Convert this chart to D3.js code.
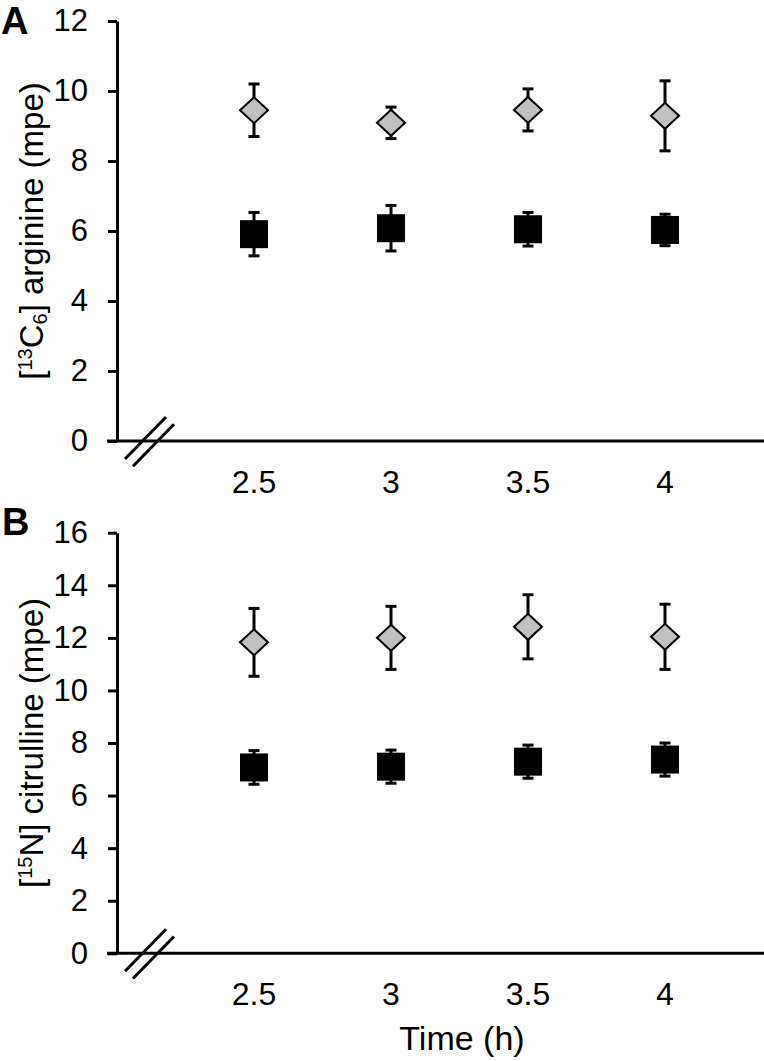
<!DOCTYPE html>
<html>
<head>
<meta charset="utf-8">
<script src="https://cdn.jsdelivr.net/npm/d3@7"></script>
<style>
  body { margin: 0; background: #fff; }
  text { font-family: "Liberation Sans", Arial, sans-serif; }
</style>
</head>
<body>
<div id="chart"></div>
<script>
// time points (h)
var times = [2.5, 3, 3.5, 4];

// panel A: [13C6] arginine (mpe)
var argDiamondMean = [9.45, 9.09, 9.46, 9.29];
var argDiamondSd = [0.75, 0.45, 0.6, 1.0];
var argSquareMean = [5.91, 6.08, 6.05, 6.03];
var argSquareSd = [0.62, 0.65, 0.48, 0.45];
var argTicks = [0, 2, 4, 6, 8, 10, 12];

// panel B: [15N] citrulline (mpe)
var citDiamondMean = [11.83, 12.0, 12.42, 12.04];
var citDiamondSd = [1.29, 1.2, 1.22, 1.24];
var citSquareMean = [7.07, 7.1, 7.29, 7.37];
var citSquareSd = [0.64, 0.63, 0.63, 0.63];
var citTicks = [0, 2, 4, 6, 8, 10, 12, 14, 16];

var width = 764, height = 1061;

var svg = d3.select("#chart").append("svg")
    .attr("width", width)
    .attr("height", height);

// shared x scale (axis starts at 2 h, drawn with a break mark)
var x = d3.scaleLinear().domain([2, 4.5]).range([117, 802]);

function panel(opts) {
    var y = d3.scaleLinear().domain([0, opts.ymax]).range([opts.y0, opts.y1]);
    var g = svg.append("g");

    // y axis
    var yAxis = g.append("g")
        .attr("transform", "translate(" + x(2) + ",0)")
        .call(d3.axisLeft(y).tickValues(opts.ticks).tickSize(9).tickSizeOuter(0).tickPadding(20));
    yAxis.select(".domain").attr("stroke", "#000").attr("stroke-width", 3);
    yAxis.selectAll(".tick line").attr("stroke", "#000").attr("stroke-width", 3);
    yAxis.selectAll(".tick text")
        .style("font-family", "'Liberation Sans', Arial, sans-serif")
        .style("font-size", "31px")
        .attr("fill", "#000");

    // x axis line, extends a bit to the left of the y axis
    g.append("line")
        .attr("x1", x(2) - 10).attr("x2", width)
        .attr("y1", y(0)).attr("y2", y(0))
        .attr("stroke", "#000").attr("stroke-width", 3);

    g.selectAll(".xlab")
        .data(times)
        .enter().append("text")
        .attr("x", function (d) { return x(d); })
        .attr("y", y(0) + 52)
        .attr("text-anchor", "middle")
        .style("font-size", "32px")
        .text(function (d) { return d; });

    // axis break "//"
    [0, 8].forEach(function (o) {
        g.append("line")
            .attr("x1", x(2) + 8 + o).attr("y1", y(0) + 18 + o * 0.9)
            .attr("x2", x(2) + 49 + o).attr("y2", y(0) - 24 + o * 0.9)
            .attr("stroke", "#000").attr("stroke-width", 3);
    });

    // error bars
    function errorBars(means, sds) {
        var eb = g.append("g");
        times.forEach(function (t, i) {
            var cx = x(t), top = y(means[i] + sds[i]), bot = y(means[i] - sds[i]);
            eb.append("line").attr("x1", cx).attr("x2", cx).attr("y1", top).attr("y2", bot)
                .attr("stroke", "#000").attr("stroke-width", 3);
            [top, bot].forEach(function (yy) {
                eb.append("line").attr("x1", cx - 5.5).attr("x2", cx + 5.5).attr("y1", yy).attr("y2", yy)
                    .attr("stroke", "#000").attr("stroke-width", 3);
            });
        });
    }
    errorBars(opts.dMean, opts.dSd);
    errorBars(opts.sMean, opts.sSd);

    // diamonds
    g.selectAll(".dia")
        .data(opts.dMean)
        .enter().append("path")
        .attr("d", "M0,-13L14,0L0,13L-14,0Z")
        .attr("transform", function (d, i) { return "translate(" + x(times[i]) + "," + y(d) + ")"; })
        .attr("fill", "#c0c0c0")
        .attr("stroke", "#000")
        .attr("stroke-width", 2);

    // squares
    g.selectAll(".sq")
        .data(opts.sMean)
        .enter().append("rect")
        .attr("x", function (d, i) { return x(times[i]) - 14; })
        .attr("y", function (d) { return y(d) - 14; })
        .attr("width", 28)
        .attr("height", 28)
        .attr("fill", "#000");

    // y title
    var cy = (opts.y0 + opts.y1) / 2;
    var t = g.append("text")
        .attr("transform", "translate(43," + cy + ") rotate(-90)")
        .attr("text-anchor", "middle")
        .style("font-size", "33px");
    opts.title(t);

    // panel letter
    g.append("text")
        .attr("x", opts.letterX).attr("y", opts.letterY)
        .style("font-size", "38px")
        .style("font-weight", "bold")
        .text(opts.letter);
}

panel({
    ymax: 12, y0: 441, y1: 21, ticks: argTicks,
    dMean: argDiamondMean, dSd: argDiamondSd,
    sMean: argSquareMean, sSd: argSquareSd,
    letter: "A", letterX: 1, letterY: 34,
    title: function (t) {
        t.append("tspan").text("[");
        t.append("tspan").attr("dy", -11).style("font-size", "20px").text("13");
        t.append("tspan").attr("dy", 11).text("C");
        t.append("tspan").attr("dy", 4).style("font-size", "20px").text("6");
        t.append("tspan").attr("dy", -4).text("] arginine (mpe)");
    }
});

panel({
    ymax: 16, y0: 953.3, y1: 532.7, ticks: citTicks,
    dMean: citDiamondMean, dSd: citDiamondSd,
    sMean: citSquareMean, sSd: citSquareSd,
    letter: "B", letterX: 2, letterY: 535,
    title: function (t) {
        t.append("tspan").text("[");
        t.append("tspan").attr("dy", -11).style("font-size", "20px").text("15");
        t.append("tspan").attr("dy", 11).text("N] citrulline (mpe)");
    }
});

// x title
svg.append("text")
    .attr("x", 462)
    .attr("y", 1050)
    .attr("text-anchor", "middle")
    .style("font-size", "34px")
    .text("Time (h)");
</script>
</body>
</html>
